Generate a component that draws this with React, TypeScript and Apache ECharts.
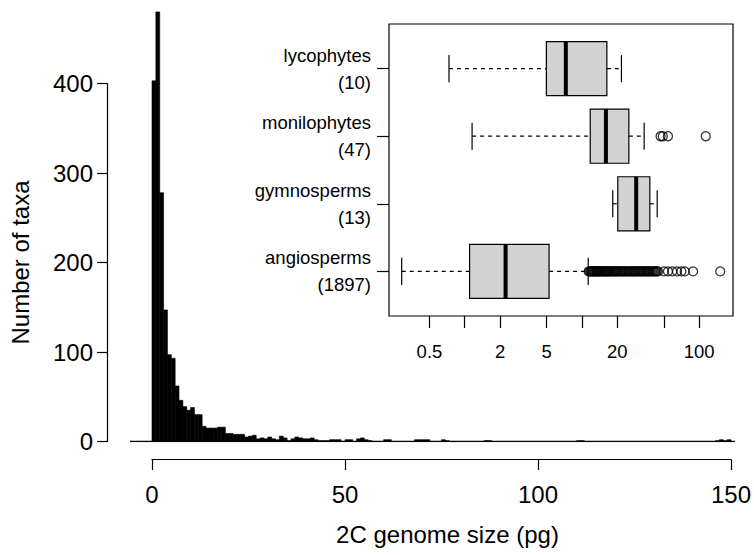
import React, { useEffect, useRef } from "react";
import * as echarts from "echarts";

// ---------- data ----------
// histogram of 2C genome size, 1-pg bins starting at 0
const HIST_COUNTS = [
  403, 480, 278, 147, 97, 93, 62, 46, 39, 35,
  38, 30, 30, 17, 15, 15, 15, 16, 16, 9,
  9, 8, 8, 8, 5, 6, 7, 3, 4, 3,
  5, 3, 2, 6, 4, 1, 3, 5, 4, 3,
  3, 4, 2, 1, 1, 1, 2, 2, 2, 0,
  2, 2, 0, 3, 4, 2, 1, 0, 0, 0,
  2, 2, 0, 0, 0, 0, 0, 0, 2, 2,
  2, 2, 0, 0, 0, 2, 1, 0, 0, 0,
  0, 0, 0, 0, 0, 0, 1, 1, 0, 0,
  0, 0, 0, 0, 0, 0, 0, 0, 0, 0,
  0, 0, 0, 0, 0, 0, 0, 0, 0, 0,
  1, 1, 0, 0, 0, 0, 0, 0, 0, 0,
  0, 0, 0, 0, 0, 0, 0, 0, 0, 0,
  0, 0, 0, 0, 0, 0, 0, 0, 0, 0,
  0, 0, 0, 0, 0, 0, 1, 2, 1, 2,
];
const BIN_WIDTH = 1;
const HIST_X_MAX = 150;
const HIST_X_INTERVAL = 50;
const HIST_Y_MAX = 400;
const HIST_Y_INTERVAL = 100;

// inset boxplot (pg), bottom to top
const GROUPS = ["angiosperms", "gymnosperms", "monilophytes", "lycophytes"];
const GROUP_N = [1897, 13, 47, 10];
const BOX_MIN = [0.29, 18.3, 1.155, 0.734];
const BOX_Q1 = [1.1, 20.2, 11.76, 4.97];
const BOX_MED = [2.23, 29.0, 16.0, 7.28];
const BOX_Q3 = [5.24, 37.9, 25.1, 16.3];
const BOX_MAX = [11.3, 43.8, 33.9, 21.7];
const ANGIO_OUTLIERS = [
  11.4, 11.6, 11.8, 12.0, 12.2, 12.4, 12.6, 12.8, 13.0, 13.2, 13.4, 13.6, 13.8,
  14.0, 14.3, 14.6, 14.9, 15.2, 15.5, 15.8, 16.1, 16.4, 16.7, 17.0, 17.4, 17.8,
  18.2, 18.6, 19.0, 19.4, 19.8, 20.2, 20.7, 21.2, 21.7, 22.2, 22.7, 23.2, 23.8,
  24.4, 25.0, 25.6, 26.2, 26.8, 27.4, 28.0, 28.7, 29.4, 30.1, 30.8, 31.5, 32.2,
  33.0, 33.8, 34.6, 35.4, 36.2, 37.0, 37.9, 38.8, 39.7, 40.6, 41.5, 42.5, 43.5,
  44.5, 50.0, 54.1, 58.9, 64.6, 70.4, 75.2, 88.6, 151,
];
const MONILO_OUTLIERS = [46.8, 48.9, 54.1, 113.6];
const INSET_TICKS = [0.5, 1, 2, 5, 10, 20, 50, 100];
const INSET_LABELS = [0.5, 2, 5, 20, 100];
const INSET_LOG_MIN = -0.646;
const INSET_LOG_MAX = 2.288;

// ---------- layout / style ----------
const FONT = "'Liberation Sans', Arial, Helvetica, sans-serif";
const W = 754;
const H = 555;
const X0 = 150; // px of 0 pg
const X150 = 735; // px of 150 pg
const Y0 = 441.5; // px of count 0
const Y400 = 83.5; // px of count 400
const BASE_LEFT = 130; // baseline starts here
const PX_PER_UNIT = (X150 - X0) / HIST_X_MAX;
const BASE_X_MIN = -(X0 - BASE_LEFT) / PX_PER_UNIT;

const log10 = (v: number) => Math.log10(v);

export default function App() {
  const ref = useRef<HTMLDivElement>(null);

  useEffect(() => {
    const chart = echarts.init(ref.current!, null, { renderer: "svg" });

    const histData = HIST_COUNTS.map((c, i) => [i * BIN_WIDTH, c]);
    const boxData = GROUPS.map((_, i) => [
      i + 1,
      log10(BOX_MIN[i]),
      log10(BOX_Q1[i]),
      log10(BOX_MED[i]),
      log10(BOX_Q3[i]),
      log10(BOX_MAX[i]),
    ]);
    const outlierData = [
      ...ANGIO_OUTLIERS.map((v) => [log10(v), 1]),
      ...MONILO_OUTLIERS.map((v) => [log10(v), 3]),
    ];
    const labelFor = (v: number) => {
      const i = Math.round(v) - 1;
      return GROUPS[i] + "\n(" + GROUP_N[i] + ")";
    };

    const axisBlack = () => ({ color: "#000", width: 1.2 });

    const option: any = {
      animation: false,
      backgroundColor: "#fff",
      textStyle: { fontFamily: FONT, color: "#000" },
      grid: [
        // baseline area (extends left of 0)
        { left: BASE_LEFT, right: W - X150, top: Y400, bottom: H - Y0 },
        // histogram + main axes
        { left: X0, right: W - X150, top: Y400, bottom: H - Y0 },
        // inset
        {
          left: 389,
          top: 24,
          width: 344,
          height: 292,
          show: true,
          backgroundColor: "#fff",
          borderColor: "#000",
          borderWidth: 1.2,
          z: 5,
        },
      ],
      xAxis: [
        {
          gridIndex: 0,
          type: "value",
          min: BASE_X_MIN,
          max: HIST_X_MAX,
          show: false,
        },
        {
          gridIndex: 1,
          type: "value",
          min: 0,
          max: HIST_X_MAX,
          interval: HIST_X_INTERVAL,
          offset: 18,
          axisLine: { show: true, onZero: false, lineStyle: axisBlack() },
          axisTick: { show: true, length: 10.5, lineStyle: axisBlack() },
          axisLabel: { fontSize: 24, color: "#000", margin: 23, fontFamily: FONT },
          splitLine: { show: false },
          name: "2C genome size (pg)",
          nameLocation: "middle",
          nameGap: 63,
          nameTextStyle: {
            fontSize: 24,
            color: "#000",
            fontFamily: FONT,
            padding: [0, 0, 0, 12],
          },
        },
        {
          gridIndex: 2,
          type: "value",
          min: INSET_LOG_MIN,
          max: INSET_LOG_MAX,
          z: 6,
          axisLine: { show: false, onZero: false },
          axisTick: {
            show: true,
            length: 12,
            lineStyle: axisBlack(),
            customValues: INSET_TICKS.map(log10),
          },
          axisLabel: {
            fontSize: 18.5,
            color: "#000",
            margin: 26,
            fontFamily: FONT,
            customValues: INSET_LABELS.map(log10),
            formatter: (v: number) => String(Number(Math.pow(10, v).toPrecision(2))),
          },
          splitLine: { show: false },
        },
      ],
      yAxis: [
        { gridIndex: 0, type: "value", min: 0, max: HIST_Y_MAX, show: false },
        {
          gridIndex: 1,
          type: "value",
          min: 0,
          max: HIST_Y_MAX,
          interval: HIST_Y_INTERVAL,
          offset: 45,
          axisLine: { show: true, onZero: false, lineStyle: axisBlack() },
          axisTick: { show: true, length: 10, lineStyle: axisBlack() },
          axisLabel: { fontSize: 24, color: "#000", margin: 14, fontFamily: FONT },
          splitLine: { show: false },
          name: "Number of taxa",
          nameLocation: "middle",
          nameRotate: 90,
          nameGap: 75,
          nameTextStyle: { fontSize: 24, color: "#000", fontFamily: FONT },
        },
        {
          gridIndex: 2,
          type: "value",
          min: 0.34,
          max: 4.66,
          z: 6,
          axisLine: { show: false, onZero: false },
          axisTick: {
            show: true,
            length: 12,
            lineStyle: axisBlack(),
            customValues: [1, 2, 3, 4],
          },
          axisLabel: {
            fontSize: 18.5,
            lineHeight: 27,
            color: "#000",
            margin: 18,
            fontFamily: FONT,
            align: "right",
            customValues: [1, 2, 3, 4],
            formatter: (v: number) => labelFor(v),
          },
          splitLine: { show: false },
        },
      ],
      series: [
        // y = 0 baseline across the plotting region
        {
          type: "line",
          xAxisIndex: 0,
          yAxisIndex: 0,
          symbol: "none",
          silent: true,
          lineStyle: { color: "#000", width: 1.4 },
          data: [
            [BASE_X_MIN, 0],
            [HIST_X_MAX, 0],
          ],
        },
        // histogram bars
        {
          type: "custom",
          xAxisIndex: 1,
          yAxisIndex: 1,
          clip: false,
          data: histData,
          renderItem: (params: any, api: any) => {
            const x = api.value(0);
            const c = api.value(1);
            if (!c) return null;
            const p0 = api.coord([x, 0]);
            const p1 = api.coord([x + BIN_WIDTH, c]);
            return {
              type: "rect",
              shape: { x: p0[0], y: p1[1], width: p1[0] - p0[0], height: p0[1] - p1[1] },
              style: { fill: "#000", stroke: "#000", lineWidth: 0.6 },
            };
          },
        },
        // boxes
        {
          type: "custom",
          xAxisIndex: 2,
          yAxisIndex: 2,
          z: 10,
          data: boxData,
          renderItem: (params: any, api: any) => {
            const pos = api.value(0);
            const vmin = api.value(1);
            const q1 = api.value(2);
            const med = api.value(3);
            const q3 = api.value(4);
            const vmax = api.value(5);
            const half = 0.4;
            const cap = 0.2;
            const c = (a: number, b: number) => api.coord([a, b]);
            const line = (a: number[], b: number[], style: any) => ({
              type: "line",
              shape: { x1: a[0], y1: a[1], x2: b[0], y2: b[1] },
              style: Object.assign({ stroke: "#000", lineWidth: 1.2 }, style),
            });
            const tl = c(q1, pos + half);
            const br = c(q3, pos - half);
            return {
              type: "group",
              children: [
                line(c(vmin, pos), c(q1, pos), { lineDash: [4, 4] }),
                line(c(q3, pos), c(vmax, pos), { lineDash: [4, 4] }),
                line(c(vmin, pos - cap), c(vmin, pos + cap), {}),
                line(c(vmax, pos - cap), c(vmax, pos + cap), {}),
                {
                  type: "rect",
                  shape: { x: tl[0], y: tl[1], width: br[0] - tl[0], height: br[1] - tl[1] },
                  style: { fill: "#d3d3d3", stroke: "#000", lineWidth: 1.2 },
                },
                line(c(med, pos - half), c(med, pos + half), { lineWidth: 4 }),
              ],
            };
          },
        },
        // outliers
        {
          type: "scatter",
          xAxisIndex: 2,
          yAxisIndex: 2,
          z: 11,
          symbol: "circle",
          symbolSize: 9,
          itemStyle: { color: "rgba(0,0,0,0)", borderColor: "#000", borderWidth: 1.3 },
          data: outlierData,
        },
      ],
    };

    chart.setOption(option);
    return () => chart.dispose();
  }, []);

  return (
    <div
      ref={ref}
      style={{ position: "absolute", left: 0, top: 0, width: W, height: H }}
    />
  );
}
